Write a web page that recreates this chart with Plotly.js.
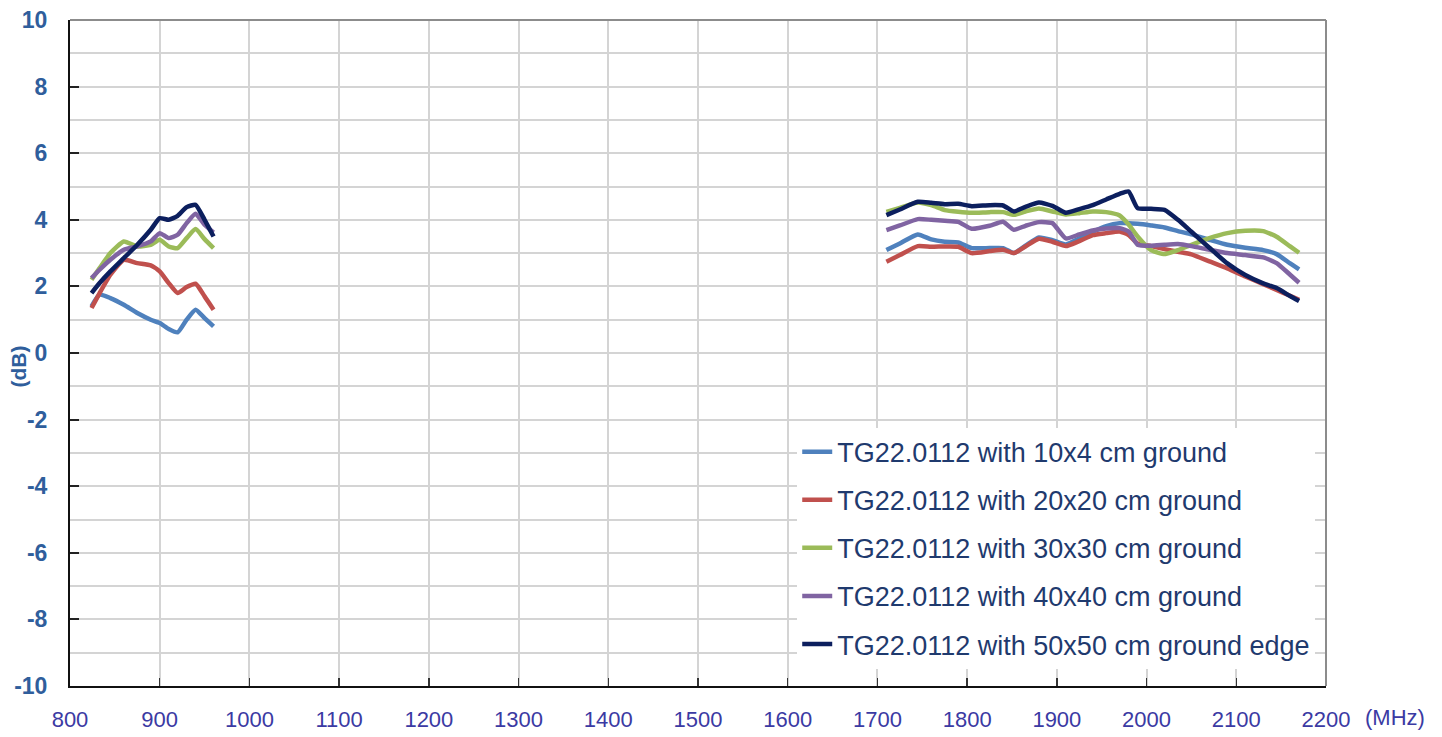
<!DOCTYPE html>
<html>
<head>
<meta charset="utf-8">
<script src="https://cdn.plot.ly/plotly-3.0.1.min.js"></script>
<style>html,body{margin:0;padding:0;background:#fff;}#chart{width:1442px;height:737px;}</style>
</head>
<body>
<div id="chart"></div>
<script>
// Frequency samples (MHz)
const freqLow = [824, 833, 845, 860, 875, 890, 900, 910, 920, 930, 940, 950, 960];
const freqHigh = [1710, 1725, 1745, 1760, 1775, 1790, 1805, 1825, 1840, 1852, 1865, 1880, 1895, 1910, 1925, 1940, 1955, 1970, 1980, 1990, 2005, 2020, 2035, 2050, 2070, 2090, 2110, 2130, 2145, 2160, 2170];

// Axis tick values / labels
const yTickVals = [-10, -8, -6, -4, -2, 0, 2, 4, 6, 8, 10];
const yTickLabels = ["-10", "-8", "-6", "-4", "-2", "0", "2", "4", "6", "8", "10"];

// Series names
const seriesNames = [
  "TG22.0112 with 10x4 cm ground",
  "TG22.0112 with 20x20 cm ground",
  "TG22.0112 with 30x30 cm ground",
  "TG22.0112 with 40x40 cm ground",
  "TG22.0112 with 50x50 cm ground edge"
];

// Gain (dB) values, low band
const g10x4Low  = [1.40, 1.75, 1.65, 1.45, 1.20, 1.00, 0.90, 0.72, 0.62, 1.00, 1.30, 1.05, 0.80];
const g20x20Low = [1.35, 1.80, 2.35, 2.80, 2.70, 2.63, 2.45, 2.10, 1.80, 1.98, 2.08, 1.70, 1.30];
const g30x30Low = [2.20, 2.55, 3.00, 3.35, 3.20, 3.25, 3.40, 3.20, 3.15, 3.45, 3.72, 3.42, 3.15];
const g40x40Low = [2.25, 2.50, 2.80, 3.10, 3.20, 3.35, 3.60, 3.45, 3.55, 3.90, 4.18, 3.85, 3.62];
const g50x50Low = [1.80, 2.10, 2.45, 2.85, 3.25, 3.70, 4.05, 4.00, 4.12, 4.38, 4.45, 4.00, 3.50];

// Gain (dB) values, high band
const g10x4High  = [3.09, 3.29, 3.56, 3.41, 3.34, 3.32, 3.15, 3.15, 3.15, 3.00, 3.22, 3.47, 3.39, 3.26, 3.44, 3.64, 3.81, 3.90, 3.90, 3.88, 3.83, 3.77, 3.66, 3.56, 3.40, 3.25, 3.16, 3.09, 2.97, 2.69, 2.51];
const g20x20High = [2.74, 2.94, 3.21, 3.19, 3.20, 3.19, 3.00, 3.06, 3.10, 3.00, 3.20, 3.43, 3.34, 3.21, 3.36, 3.54, 3.60, 3.65, 3.54, 3.29, 3.21, 3.12, 3.04, 2.96, 2.75, 2.54, 2.30, 2.07, 1.89, 1.72, 1.60];
const g30x30High = [4.24, 4.36, 4.52, 4.44, 4.29, 4.24, 4.21, 4.23, 4.23, 4.15, 4.25, 4.34, 4.25, 4.16, 4.20, 4.25, 4.23, 4.13, 3.86, 3.50, 3.09, 2.97, 3.09, 3.25, 3.45, 3.60, 3.67, 3.66, 3.49, 3.20, 3.01];
const g40x40High = [3.69, 3.83, 4.02, 4.00, 3.97, 3.94, 3.73, 3.82, 3.94, 3.70, 3.82, 3.93, 3.90, 3.44, 3.56, 3.68, 3.74, 3.75, 3.65, 3.25, 3.22, 3.25, 3.27, 3.21, 3.10, 3.00, 2.94, 2.87, 2.70, 2.35, 2.11];
const g50x50High = [4.14, 4.31, 4.54, 4.51, 4.47, 4.48, 4.41, 4.44, 4.43, 4.25, 4.39, 4.52, 4.42, 4.21, 4.32, 4.44, 4.61, 4.78, 4.85, 4.35, 4.33, 4.30, 4.00, 3.64, 3.16, 2.69, 2.34, 2.09, 1.95, 1.71, 1.56];

const seriesColors = ["#4f81bd", "#c0504d", "#9bbb59", "#8064a2", "#0c1f5e"];

const lows = [g10x4Low, g20x20Low, g30x30Low, g40x40Low, g50x50Low];
const highs = [g10x4High, g20x20High, g30x30High, g40x40High, g50x50High];

const xAll = freqLow.concat([null], freqHigh);
const traces = seriesNames.map((name, i) => ({
  type: "scatter",
  mode: "lines",
  name: name,
  legendgroup: "g" + i,
  x: xAll,
  y: lows[i].concat([null], highs[i]),
  connectgaps: false,
  line: { color: seriesColors[i], width: 4.5, shape: "spline", smoothing: 0.5 }
}));

const sans = "'Liberation Sans', Arial, sans-serif";
const gridCol = "#d4d4d4";

const layout = {
  width: 1442,
  height: 737,
  margin: { l: 70, r: 116, t: 20, b: 51, pad: 0 },
  paper_bgcolor: "#ffffff",
  plot_bgcolor: "#ffffff",
  showlegend: true,
  legend: {
    x: 0.579, y: 0.388, xanchor: "left", yanchor: "top",
    bgcolor: "#ffffff", borderwidth: 0,
    font: { family: sans, size: 27, color: "#1f3a6e" },
    tracegroupgap: 10,
    traceorder: "grouped"
  },
  xaxis: {
    range: [800, 2200],
    tick0: 800, dtick: 100,
    showgrid: true, gridcolor: gridCol, gridwidth: 2,
    zeroline: false,
    showline: true, linecolor: "#111", linewidth: 2,
    ticks: "inside", ticklen: 8, tickwidth: 1.5, tickcolor: "#333",
    ticklabelstandoff: 13,
    tickfont: { family: sans, size: 22, color: "#3b3aa3" }
  },
  yaxis: {
    range: [-10, 10],
    tickmode: "array", tickvals: yTickVals, ticktext: yTickLabels,
    showgrid: true, gridcolor: gridCol, gridwidth: 2,
    minor: { dtick: 1, showgrid: true, gridcolor: gridCol, gridwidth: 2, ticks: "" },
    zeroline: false,
    showline: true, linecolor: "#111", linewidth: 2,
    ticks: "inside", ticklen: 9, tickwidth: 2, tickcolor: "#222",
    ticklabelstandoff: 16,
    tickfont: { family: sans, size: 23, color: "#2f5e9c", weight: "bold" }
  },
  shapes: [
    { type: "line", xref: "paper", yref: "paper", x0: 0, x1: 1, y0: 1, y1: 1, line: { color: "#8c8c8c", width: 2 } },
    { type: "line", xref: "paper", yref: "paper", x0: 1, x1: 1, y0: 0, y1: 1, line: { color: "#8c8c8c", width: 2 } }
  ],
  annotations: [
    { text: "(MHz)", xref: "paper", yref: "paper", x: 1.055, y: -0.048, xanchor: "center", yanchor: "middle",
      showarrow: false, font: { family: sans, size: 22, color: "#3b3aa3" } },
    { text: "(dB)", xref: "paper", yref: "paper", x: -0.041, y: 0.479, xanchor: "center", yanchor: "middle",
      textangle: -90, showarrow: false, font: { family: sans, size: 21, color: "#2f5e9c", weight: "bold" } }
  ]
};

Plotly.newPlot("chart", traces, layout, { displayModeBar: false, staticPlot: true });
</script>
</body>
</html>
